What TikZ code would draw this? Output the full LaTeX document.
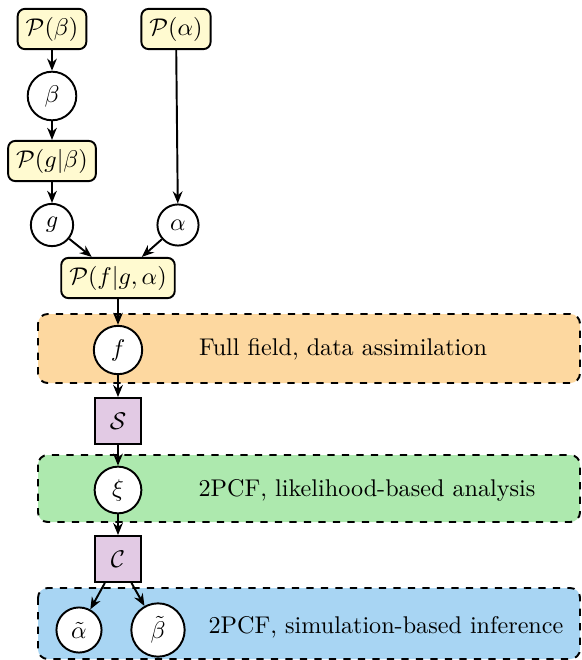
\documentclass[tikz,border=0pt]{standalone}
\usetikzlibrary{arrows.meta}

\definecolor{probfill}{RGB}{255,250,208}
\definecolor{mapfill}{RGB}{226,202,228}
\definecolor{fullfill}{RGB}{253,216,160}
\definecolor{likefill}{RGB}{173,233,174}
\definecolor{simfill}{RGB}{168,213,243}

\tikzset{
  prob/.style={draw, thick, rounded corners=3pt, fill=probfill},
  var/.style={draw, thick, circle, fill=white},
  mapbox/.style={draw, thick, fill=mapfill, minimum size=19pt},
  region/.style={draw, thick, dashed, rounded corners=4pt},
  link/.style={-{Stealth[length=5pt,width=4pt]}, thick}
}

\begin{document}
\begin{tikzpicture}[x=0.4138pt, y=-0.4138pt]
\useasboundingbox (0,0) rectangle (582,660);

\draw[region, fill=fullfill] (38,314) rectangle (580,383);
\draw[region, fill=likefill] (38,455) rectangle (580,522);
\draw[region, fill=simfill] (38,588) rectangle (580,659);

\node[prob] (pbeta) at (52,29) {$\mathcal{P}(\beta)$};
\node[prob] (palpha) at (176,29) {$\mathcal{P}(\alpha)$};
\node[var] (beta) at (52,96) {$\beta$};
\node[prob] (pgbeta) at (52,161) {$\mathcal{P}(g|\beta)$};
\node[var] (g) at (52,225) {$g$};
\node[var] (alpha) at (178,225) {$\alpha$};
\node[prob] (pfg) at (118,278) {$\mathcal{P}(f|g,\alpha)$};

\node[var] (f) at (118,350) {$f$};
\node[mapbox] (S) at (118,421) {$\mathcal{S}$};
\node[var] (xi) at (118,490) {$\xi$};
\node[mapbox] (C) at (118,559) {$\mathcal{C}$};
\node[var] (atilde) at (79,630) {$\tilde{\alpha}$};
\node[var] (btilde) at (158,630) {$\tilde{\beta}$};

\node (fulltxt) at (343,349) {Full field, data assimilation};
\node (liketxt) at (367,490) {2PCF, likelihood-based analysis};
\node (simtxt) at (386,627) {2PCF, simulation-based inference};

\draw[link] (pbeta) -- (beta);
\draw[link] (beta) -- (pgbeta);
\draw[link] (pgbeta) -- (g);
\draw[link] (palpha) -- (alpha);
\draw[link] (g) -- (pfg);
\draw[link] (alpha) -- (pfg);
\draw[link] (pfg) -- (f);
\draw[link] (f) -- (S);
\draw[link] (S) -- (xi);
\draw[link] (xi) -- (C);
\draw[link] (C) -- (atilde);
\draw[link] (C) -- (btilde);
\end{tikzpicture}
\end{document}
